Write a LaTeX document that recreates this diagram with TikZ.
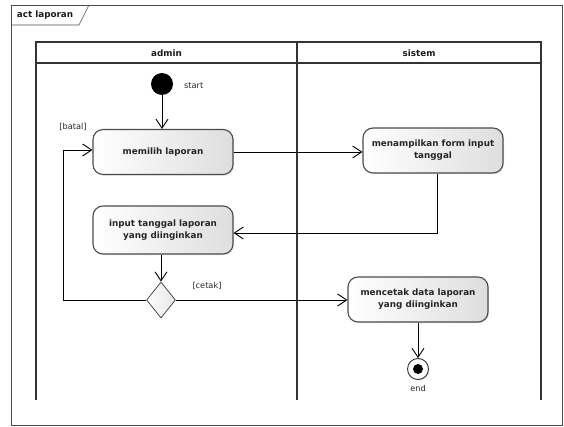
\documentclass[tikz,border=0pt]{standalone}
\usepackage{fontspec}
\setmainfont{DejaVu Sans}
\usetikzlibrary{arrows.meta,shapes.geometric,shadows}

\begin{document}
\begin{tikzpicture}[x=1pt,y=-1pt,
  frameline/.style={draw=black!70, line width=0.6pt},
  laneline/.style={draw=black!80, line width=1.2pt},
  action/.style={draw=black!70, line width=1.1pt, rounded corners=10pt,
    left color=white, right color=black!13,
    minimum width=140pt, minimum height=45pt, inner sep=2pt,
    align=center, font=\bfseries\fontsize{8.8}{12}\selectfont, text=black!85,
    drop shadow={shadow xshift=1.2pt, shadow yshift=-1.2pt, opacity=0.25, fill=black!40}},
  decision/.style={diamond, draw=black!70, line width=0.8pt, aspect=0.78,
    left color=white, right color=black!10, minimum width=29pt, minimum height=36pt, inner sep=0pt},
  initial/.style={circle, fill=black, minimum size=22pt, inner sep=0pt},
  final/.style={circle, draw=black!80, line width=0.9pt, fill=white, minimum size=21pt, inner sep=0pt,
    drop shadow={shadow xshift=1pt, shadow yshift=-1pt, opacity=0.25}},
  flow/.style={draw=black, line width=0.9pt, -{Straight Barb[length=9pt, width=12pt, line width=0.9pt]}},
  guard/.style={font=\fontsize{8.2}{9}\selectfont, text=black!85, inner sep=0pt},
  title/.style={font=\bfseries\fontsize{8.8}{10}\selectfont, text=black!90, inner sep=0pt}
]
\useasboundingbox (0,0) rectangle (564,427);

% outer activity frame with its name tab
\draw[frameline] (11,5) rectangle (562,425);
\draw[frameline] (11,25) -- (79,25) -- (89,5);
\node[title] (acttitle) at (45,15) {act laporan};

% swimlanes
\draw[laneline] (36,400) -- (36,42) -- (541,42) -- (541,400);
\draw[laneline] (36,63) -- (541,63);
\draw[laneline] (297,42) -- (297,400);
\node[title] (laneA) at (166.5,53) {admin};
\node[title] (laneB) at (419,53) {sistem};

% nodes
\node[initial] (start) at (162,84) {};
\node[guard, anchor=west] (startlbl) at (184,86) {start};

\node[action] (memilih) at (163,152) {memilih laporan};
\node[action] (tampil) at (433,150.5) {menampilkan form input\\tanggal};
\node[action, minimum height=48pt] (input) at (163,230) {input tanggal laporan\\yang diinginkan};
\node[decision] (dec) at (161,300) {};
\node[action] (cetak) at (418,299.5) {mencetak data laporan\\yang diinginkan};

\node[final] (end) at (418,369) {};
\node[circle, fill=black, minimum size=10pt, inner sep=0pt] (endcore) at (end.center) {};
\node[guard] (endlbl) at (418,388) {end};

\node[guard] (batal) at (73,127) {[batal]};
\node[guard] (cetaklbl) at (207,286) {[cetak]};

\coordinate (back) at (63,300);
\coordinate (backtop) at (63,150);
\coordinate (turn) at (437,233);

% control flow
\draw[flow] (start) -- (start |- memilih.north);
\draw[flow] (memilih.east) -- (tampil.west |- memilih.east);
\draw[flow] (tampil.south -| turn) -- (turn) -- (input.east |- turn);
\draw[flow] (input.south -| dec) -- (dec);
\draw[flow] (dec.east) -- (cetak.west |- dec.east);
\draw[flow] (dec.west) -- (back) -- (backtop) -- (memilih.west |- backtop);
\draw[flow] (cetak) -- (end);
\end{tikzpicture}
\end{document}
